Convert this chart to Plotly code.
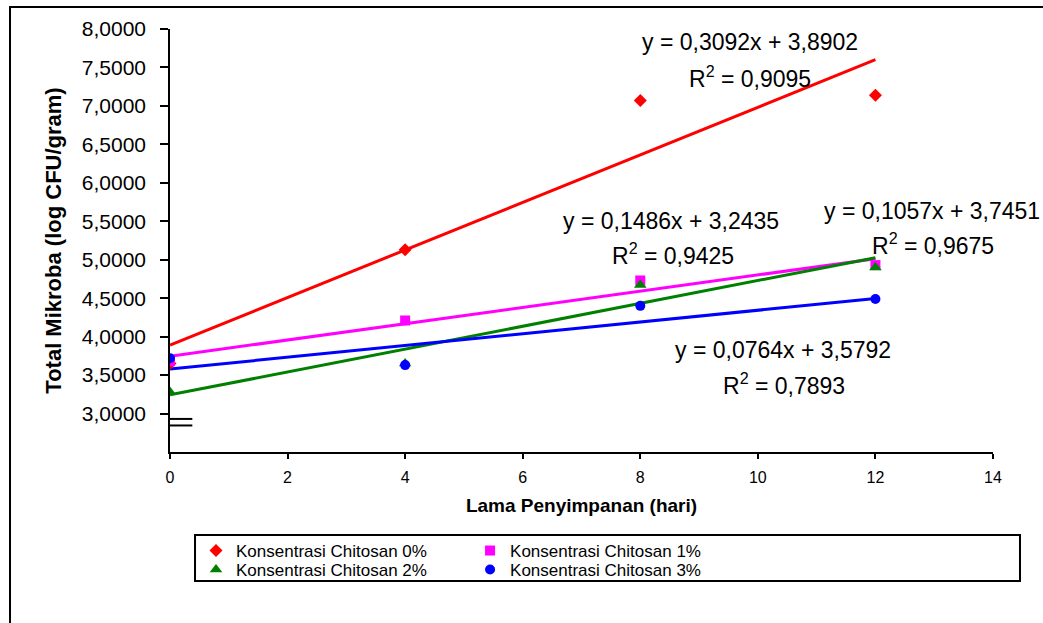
import plotly.graph_objects as go

# ---- data ----
days = [0, 4, 8, 12]
series_names = ["Konsentrasi Chitosan 0%", "Konsentrasi Chitosan 1%",
                "Konsentrasi Chitosan 2%", "Konsentrasi Chitosan 3%"]
chitosan_0 = [3.65, 5.13, 7.07, 7.14]
chitosan_1 = [3.68, 4.21, 4.73, 4.93]
chitosan_2 = [3.28, 3.65, 4.67, 4.90]
chitosan_3 = [3.72, 3.63, 4.40, 4.49]
slopes = [0.3092, 0.1057, 0.1486, 0.0764]
intercepts = [3.8902, 3.7451, 3.2435, 3.5792]
r_squared = ["0,9095", "0,9675", "0,9425", "0,7893"]
eq_labels = ["y = 0,3092x + 3,8902", "y = 0,1057x + 3,7451",
             "y = 0,1486x + 3,2435", "y = 0,0764x + 3,5792"]
y_tickvals = [3.0, 3.5, 4.0, 4.5, 5.0, 5.5, 6.0, 6.5, 7.0, 7.5, 8.0]
y_ticktext = ["3,0000", "3,5000", "4,0000", "4,5000", "5,0000", "5,5000",
              "6,0000", "6,5000", "7,0000", "7,5000", "8,0000"]
x_tickvals = [0, 2, 4, 6, 8, 10, 12, 14]

colors = ["#ff0000", "#ff00ff", "#008000", "#0000ff"]
symbols = ["diamond", "square", "triangle-up", "circle"]
sizes = [10, 10, 11, 10]
legend_ids = ["legend", "legend2", "legend3", "legend4"]
all_series = [chitosan_0, chitosan_1, chitosan_2, chitosan_3]

# annotation anchor positions (data coords)
eq_pos = [(9.87, 7.83), (12.96, 5.64), (8.53, 5.50), (10.42, 3.83)]
r2_pos = [(9.87, 7.375), (12.98, 5.21), (8.55, 5.07), (10.45, 3.38)]

fig = go.Figure()

# trendlines
for i in range(4):
    xs = [days[0], days[-1]]
    ys = [slopes[i] * x + intercepts[i] for x in xs]
    fig.add_trace(go.Scatter(x=xs, y=ys, mode="lines",
                             line=dict(color=colors[i], width=3),
                             showlegend=False, hoverinfo="skip"))

# markers
for i in range(4):
    fig.add_trace(go.Scatter(x=days, y=all_series[i], mode="markers",
                             name=series_names[i],
                             marker=dict(color=colors[i], symbol=symbols[i], size=sizes[i]),
                             legend=legend_ids[i]))

ann_font = dict(family="Liberation Sans, Arial", size=23, color="black")
for i in range(4):
    fig.add_annotation(x=eq_pos[i][0], y=eq_pos[i][1], xref="x", yref="y",
                       text=eq_labels[i], showarrow=False, font=ann_font)
    fig.add_annotation(x=r2_pos[i][0], y=r2_pos[i][1], xref="x", yref="y",
                       text="R<sup>2</sup> = " + r_squared[i], showarrow=False, font=ann_font)

# axis break marks
for yb in [2.93, 2.845]:
    fig.add_shape(type="line", xref="x", yref="y", x0=0.0, x1=0.38, y0=yb, y1=yb,
                  line=dict(color="black", width=2))

# outer frame
fig.add_shape(type="rect", xref="paper", yref="paper",
              x0=-0.1944, x1=1.2, y0=-0.6, y1=1.052,
              line=dict(color="black", width=2), layer="below")
# legend box
fig.add_shape(type="rect", xref="paper", yref="paper",
              x0=0.0304, x1=1.0328, y0=-0.305, y1=-0.196,
              line=dict(color="black", width=2))

legend_font = dict(family="Liberation Sans, Arial", size=17, color="black")
col_x = [0.0316, 0.3646, 0.0316, 0.3646]
row_y = [-0.234, -0.234, -0.279, -0.279]
legend_layouts = {}
for i in range(4):
    legend_layouts[legend_ids[i]] = dict(x=col_x[i], y=row_y[i], xanchor="left", yanchor="middle",
                                         bgcolor="rgba(0,0,0,0)", font=legend_font, itemwidth=30)

fig.update_layout(
    width=1043, height=623,
    margin=dict(l=170, r=50, t=29, b=171),
    paper_bgcolor="white", plot_bgcolor="white",
    font=dict(family="Liberation Sans, Arial", color="black"),
    xaxis=dict(range=[0, 14], tickvals=x_tickvals, showgrid=False, zeroline=False,
               showline=True, linecolor="black", linewidth=1.5,
               ticks="outside", ticklen=5, tickcolor="black", tickwidth=1.5,
               tickfont=dict(size=16), ticklabelstandoff=5, automargin=False,
               title=dict(text="<b>Lama Penyimpanan (hari)</b>", font=dict(size=19), standoff=14)),
    yaxis=dict(range=[2.5, 8.0], tickvals=y_tickvals, ticktext=y_ticktext,
               showgrid=False, zeroline=False,
               showline=True, linecolor="black", linewidth=1.5,
               ticks="outside", ticklen=8, tickcolor="black", tickwidth=1.5,
               tickfont=dict(size=21), ticklabelstandoff=10, automargin=False,
               title=dict(text="<b>Total Mikroba (log CFU/gram)</b>", font=dict(size=22), standoff=14)),
    **legend_layouts,
)

fig.write_html("out.html", config={"displayModeBar": False},
               post_script="document.body.style.margin='0px';")
